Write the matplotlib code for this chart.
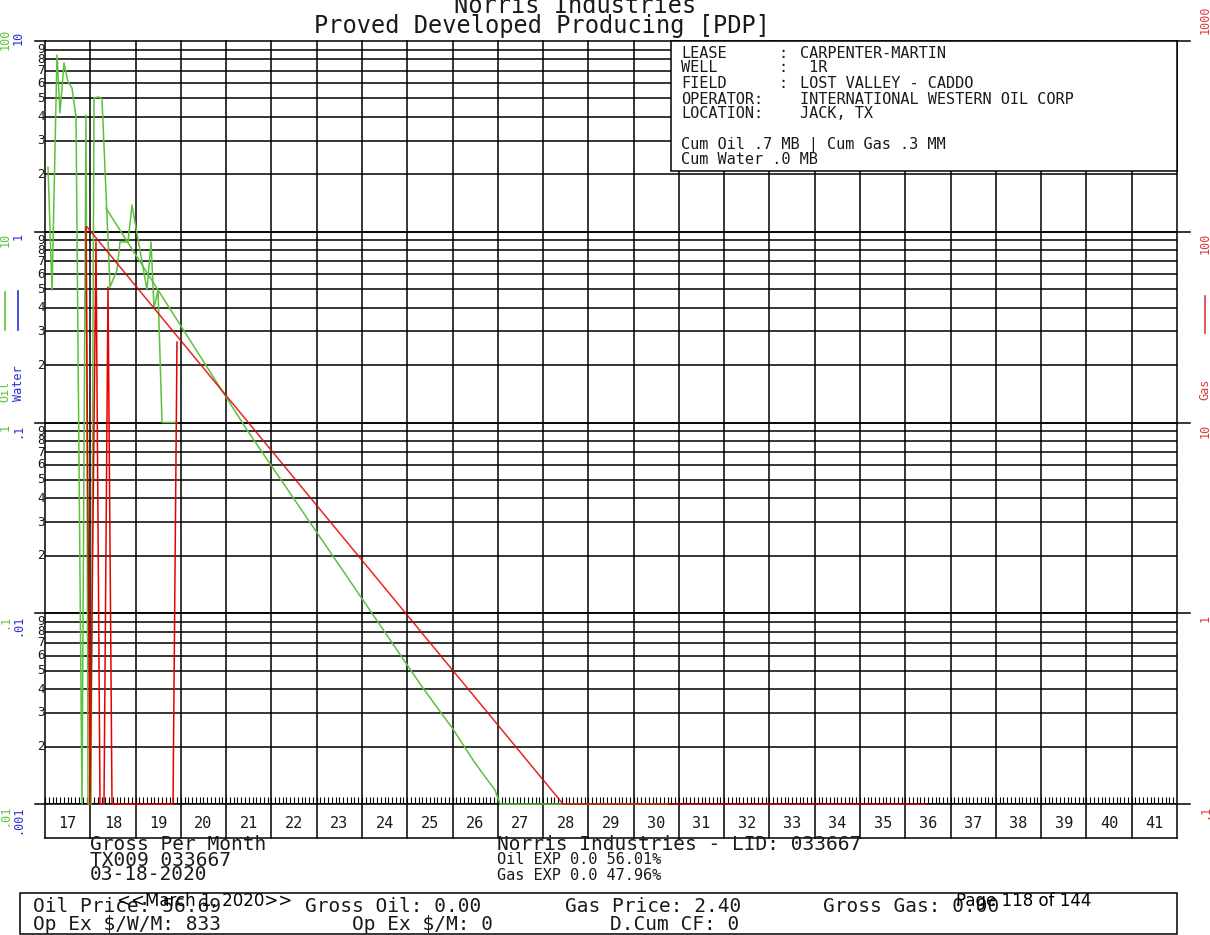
import matplotlib
matplotlib.use('Agg')
import numpy as np
import matplotlib.pyplot as plt
from matplotlib.patches import Rectangle
from matplotlib.transforms import blended_transform_factory

# --- data (x = year, 17 -> 2017) ---
# oil history, bbl/month scale of the left (green) axis
oil_hist_x = [17.066, 17.155, 17.265, 17.331, 17.420, 17.508, 17.596, 17.685, 17.817,
              17.905, 17.950, 18.016, 18.082, 18.193, 18.259, 18.436, 18.590, 18.656,
              18.833, 18.921, 19.253, 19.341, 19.407, 19.496, 19.584, 19.915]
oil_hist_y = [21.8, 4.95, 84.5, 42.0, 76.7, 61.0, 56.7, 40.0, 0.01,
              40.9, 0.01, 0.01, 50.3, 50.9, 49.7, 5.13, 6.30, 8.84,
              8.84, 13.8, 4.95, 8.84, 3.98, 4.95, 1.0, 1.0]
# oil forecast
oil_fc_x = [18.347, 21.461, 25.348, 26.01, 26.497, 26.94, 27.05, 30.76]
oil_fc_y = [13.3, 0.914, 0.0405, 0.0247, 0.0164, 0.0118, 0.01, 0.01]
# gas history / forecast, right (red) axis
gas_hist_x = [17.905, 17.994, 18.126, 18.215, 18.303, 18.391, 18.480, 19.827, 19.915]
gas_hist_y = [106, 0.1, 88.4, 0.1, 0.1, 51.3, 0.1, 0.1, 26.4]
gas_fc_x = [17.928, 28.44, 36.46]
gas_fc_y = [106, 0.1, 0.1]

years = [str(y) for y in range(17, 42)]
oil_decades = ['100', '10', '1', '.1', '.01']
water_decades = ['10', '1', '.1', '.01', '.001']
gas_decades = ['1000', '100', '10', '1', '.1']

lease_labels = ['LEASE', 'WELL', 'FIELD', 'OPERATOR:', 'LOCATION:']
lease_seps = [':', ':', ':', '', '']
lease_values = ['CARPENTER-MARTIN', ' 1R', 'LOST VALLEY - CADDO',
                'INTERNATIONAL WESTERN OIL CORP', 'JACK, TX']

green = '#5cc23c'
blue = '#2b2bd9'
red = '#e60000'
red_lbl = '#d93a3a'
ink = '#1a1a1a'
mono = 'DejaVu Sans Mono'

W, H = 1210, 935
fig = plt.figure(figsize=(W / 100, H / 100), dpi=100)
fig.patch.set_facecolor('white')

# plot box in pixels: x 45..1177, y 41..804
L, R, T, B = 45, 1177, 41, 804
pw, ph = R - L, B - T
ax = fig.add_axes([L / W, 1 - B / H, pw / W, ph / H])
ax.set_xlim(17, 42)
ax.set_yscale('log')
ax.set_ylim(0.01, 100)
ax.patch.set_alpha(0)
for s in ax.spines.values():
    s.set_visible(False)
ax.tick_params(which='both', length=0, labelleft=False, labelbottom=False)

ax2 = ax.twinx()
ax2.set_yscale('log')
ax2.set_ylim(0.1, 1000)
ax2.patch.set_alpha(0)
for s in ax2.spines.values():
    s.set_visible(False)
ax2.tick_params(which='both', length=0, labelright=False)

t_yd = blended_transform_factory(ax.transAxes, ax.transData)
t_xa = blended_transform_factory(ax.transData, ax.transAxes)

# horizontal grid, decade lines stick out on both sides
for k in range(-2, 2):
    for n in range(1, 10):
        v = n * 10.0 ** k
        ax.axhline(v, color='k', lw=1.1, zorder=1)
        if n > 1:
            ax.text(-4 / pw, v, str(n), transform=t_yd, ha='center', va='center',
                    fontsize=9, family=mono, color=ink, clip_on=False)
for k in range(-2, 3):
    ax.plot([-10 / pw, 1 + 13 / pw], [10.0 ** k] * 2, color='k', lw=1.1,
            transform=t_yd, clip_on=False, zorder=1)

# year columns and the label strip below
for yr in range(17, 43):
    ax.plot([yr, yr], [-34 / ph, 1], color='k', lw=1.1, transform=t_xa,
            clip_on=False, zorder=1)
ax.plot([0, 1], [-34 / ph] * 2, color='k', lw=1.1, transform=ax.transAxes,
        clip_on=False)
months = np.arange(17, 42, 1 / 12)
ax.vlines(months, 0, 7 / ph, color='k', lw=0.8, transform=t_xa)
for i, lab in enumerate(years):
    ax.text(17.5 + i, -20 / ph, lab, transform=t_xa, ha='center', va='center',
            fontsize=11, family=mono, color=ink, clip_on=False)

# data (not clipped so the lines lying on the bottom axis stay visible)
ax.plot(oil_hist_x, oil_hist_y, color=green, lw=1.1, zorder=3, clip_on=False)
ax.plot(oil_fc_x, oil_fc_y, color=green, lw=1.1, zorder=3, clip_on=False)
ax2.plot(gas_hist_x, gas_hist_y, color=red, lw=1.1, zorder=3, clip_on=False)
ax2.plot(gas_fc_x, gas_fc_y, color=red, lw=1.1, zorder=3, clip_on=False, alpha=0.85)

# overlay in pixel coordinates for boxes and page text
ov = fig.add_axes([0, 0, 1, 1], zorder=5)
ov.set_xlim(0, W)
ov.set_ylim(H, 0)
ov.axis('off')
ov.patch.set_alpha(0)

# axis scale labels
dec_y = [41, 232, 423, 614, 804]
for i, y in enumerate(dec_y):
    if i == 0:
        ov.text(5, 39, oil_decades[i], color=green, rotation=90, ha='center', va='center', fontsize=8.5, family=mono)
        ov.text(18, 38, water_decades[i], color=blue, rotation=90, ha='center', va='center', fontsize=8.5, family=mono)
        ov.text(1205, 20, gas_decades[i], color=red_lbl, rotation=90, ha='center', va='center', fontsize=8.5, family=mono)
    else:
        ov.text(5, y + 1, oil_decades[i], color=green, rotation=90, ha='center', va='top', fontsize=8.5, family=mono)
        ov.text(18, y + 1, water_decades[i], color=blue, rotation=90, ha='center', va='top', fontsize=8.5, family=mono)
        ov.text(1205, y + 1, gas_decades[i], color=red_lbl, rotation=90, ha='center', va='top', fontsize=8.5, family=mono)

ov.plot([5, 5], [292, 330], color=green, lw=1.2)
ov.plot([18, 18], [291, 330], color=blue, lw=1.2)
ov.plot([1205, 1205], [296, 333], color=red_lbl, lw=1.2)
ov.text(5, 391, 'Oil', color=green, rotation=90, ha='center', va='center', fontsize=8.5, family=mono)
ov.text(18, 383, 'Water', color=blue, rotation=90, ha='center', va='center', fontsize=8.5, family=mono)
ov.text(1205, 389, 'Gas', color=red_lbl, rotation=90, ha='center', va='center', fontsize=8.5, family=mono)

# titles
ov.text(575, 6, 'Norris Industries', ha='center', va='center', fontsize=17, family=mono, color=ink)
ov.text(542, 26, 'Proved Developed Producing [PDP]', ha='center', va='center', fontsize=17, family=mono, color=ink)

# lease info box
ov.add_patch(Rectangle((671, 41), R - 671, 130, fc='white', ec='k', lw=1.1))
row_y = [53, 68, 84, 99, 114]
for y, lab, sep, val in zip(row_y, lease_labels, lease_seps, lease_values):
    ov.text(681, y, lab, ha='left', va='center', fontsize=11, family=mono, color=ink)
    ov.text(778, y, sep, ha='left', va='center', fontsize=11, family=mono, color=ink)
    ov.text(800, y, val, ha='left', va='center', fontsize=11, family=mono, color=ink)
ov.text(681, 145, 'Cum Oil .7 MB | Cum Gas .3 MM', ha='left', va='center', fontsize=11, family=mono, color=ink)
ov.text(681, 160, 'Cum Water .0 MB', ha='left', va='center', fontsize=11, family=mono, color=ink)

# footer text
ov.text(90, 845, 'Gross Per Month', ha='left', va='center', fontsize=14, family=mono, color=ink)
ov.text(90, 860, 'TX009 033667', ha='left', va='center', fontsize=14, family=mono, color=ink)
ov.text(90, 875, '03-18-2020', ha='left', va='center', fontsize=14, family=mono, color=ink)
ov.text(497, 845, 'Norris Industries - LID: 033667', ha='left', va='center', fontsize=14, family=mono, color=ink)
ov.text(497, 860, 'Oil EXP 0.0 56.01%', ha='left', va='center', fontsize=11, family=mono, color=ink)
ov.text(497, 876, 'Gas EXP 0.0 47.96%', ha='left', va='center', fontsize=11, family=mono, color=ink)

ov.add_patch(Rectangle((20, 893), R - 20, 41, fc='none', ec='k', lw=1.1))
ov.text(33, 906, 'Oil Price: 56.69', ha='left', va='center', fontsize=14, family=mono, color=ink)
ov.text(305, 906, 'Gross Oil: 0.00', ha='left', va='center', fontsize=14, family=mono, color=ink)
ov.text(565, 906, 'Gas Price: 2.40', ha='left', va='center', fontsize=14, family=mono, color=ink)
ov.text(823, 906, 'Gross Gas: 0.00', ha='left', va='center', fontsize=14, family=mono, color=ink)
ov.text(33, 925, 'Op Ex $/W/M: 833', ha='left', va='center', fontsize=14, family=mono, color=ink)
ov.text(352, 925, 'Op Ex $/M: 0', ha='left', va='center', fontsize=14, family=mono, color=ink)
ov.text(610, 925, 'D.Cum CF: 0', ha='left', va='center', fontsize=14, family=mono, color=ink)

ov.text(205, 901, '<<March 1, 2020>>', ha='center', va='center', fontsize=12)
ov.text(1024, 901, 'Page 118 of 144', ha='center', va='center', fontsize=12)

fig.savefig('out.png', dpi=100)
